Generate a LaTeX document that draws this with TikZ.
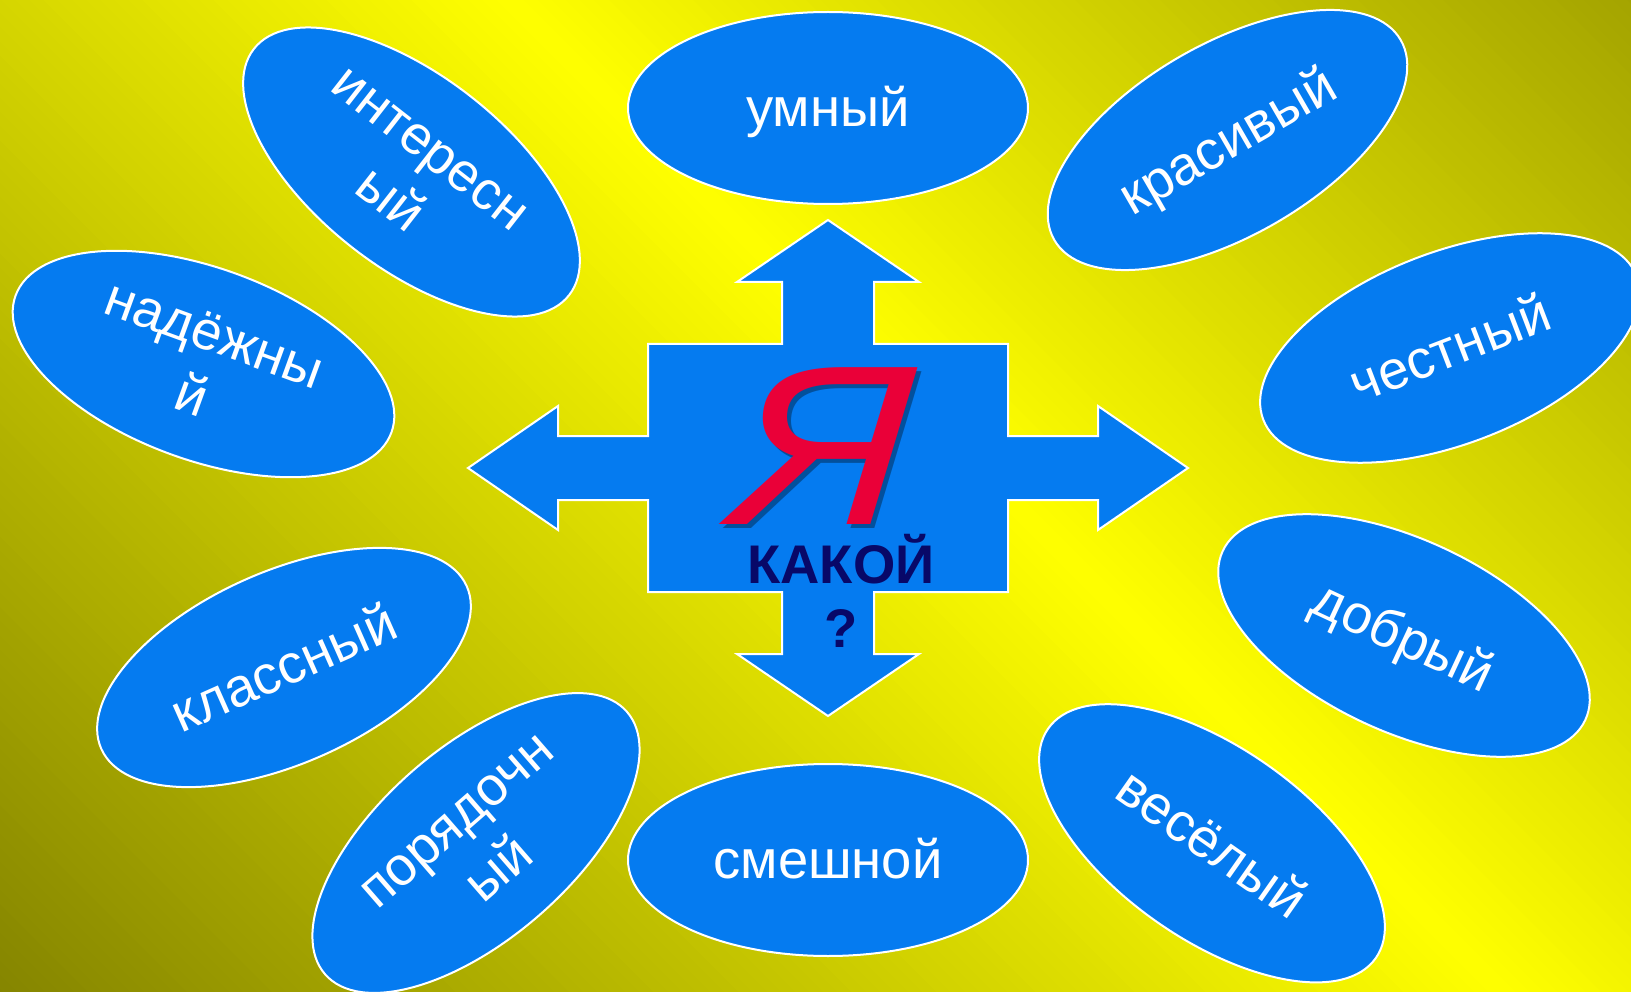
\documentclass[tikz,border=0pt]{standalone}
\usepackage{fontspec}
\setmainfont{Liberation Sans}
\usetikzlibrary{shapes.geometric}
\definecolor{bblue}{RGB}{5,123,240}
\definecolor{yared}{RGB}{234,0,56}
\definecolor{navyk}{RGB}{8,8,104}
\newcommand\myStrut{\rule[-0.212em]{0pt}{1.117em}}
\begin{document}
\begin{tikzpicture}[x=1pt,y=-1pt,
  bubble/.style={ellipse, draw=white, line width=2, fill=bblue,
    minimum width=400, minimum height=192, inner sep=0, text=white,
    align=center, font=\fontsize{54.4}{65.3}\selectfont},
  bigya/.style={font=\fontsize{228}{228}\selectfont\itshape, anchor=base, inner sep=0,
    xscale=1.12, xslant=0.075},
  kak/.style={font=\fontsize{54.4}{63.5}\selectfont\bfseries, text=navyk, anchor=base, inner sep=0}]
\useasboundingbox (0,0) rectangle (1631,992);
% background gradient
\begin{scope}
  \clip (0,0) rectangle (1631,992);
  \begin{scope}[shift={(1010,500)}, rotate=45]
    \foreach \k in {0,...,200} {
      \pgfmathsetmacro\tval{-1100+10*\k}
      \pgfmathsetmacro\bval{max(0,min(1,(255-0.115*abs(\tval+5))/255))}
      \definecolor{stripc}{rgb}{\bval,\bval,0}
      \fill[stripc] (\tval,-1500) rectangle (\tval+11,1500);
    }
  \end{scope}
\end{scope}
% central cross of arrows
\draw[white, line width=2, fill=bblue, line join=miter]
  (828,220) -- (919,282) -- (874,282) -- (874,344) -- (1008,344) -- (1008,436)
  -- (1098,436) -- (1098,406) -- (1188,468) -- (1098,530) -- (1098,500)
  -- (1008,500) -- (1008,592) -- (874,592) -- (874,654) -- (919,654)
  -- (828,716) -- (737,654) -- (782,654) -- (782,592) -- (648,592)
  -- (648,500) -- (558,500) -- (558,530) -- (468,468) -- (558,406)
  -- (558,436) -- (648,436) -- (648,344) -- (782,344) -- (782,282)
  -- (737,282) -- cycle;
% big letter with shadow
\node[bigya, text=black, text opacity=0.35] (yashadow) at (822,528) {Я};
\node[bigya, text=yared] (ya) at (818,524) {Я};
\node[kak] (kakoy) at (841,583.3) {КАКОЙ};
\node[kak] (qmark) at (841.6,647) {?};
% ellipses
\node[bubble] (umny) at (828,108) {\myStrut умный};
\node[bubble] (smeshnoy) at (828,860) {\myStrut смешной};
\node[bubble, rotate=-38] (interes) at (411.5,172) {\myStrut интересн\\\myStrut ый};
\node[bubble, rotate=30] (krasiv) at (1227.5,140) {\myStrut красивый};
\node[bubble, rotate=-20] (nadezh) at (203.5,364) {\myStrut надёжны\\\myStrut й};
\node[bubble, rotate=21] (chestn) at (1450,348) {\myStrut честный};
\node[bubble, rotate=24] (klass) at (284,667.5) {\myStrut классный};
\node[bubble, rotate=-25] (dobr) at (1404,635.5) {\myStrut добрый};
\node[bubble, rotate=41] (poryad) at (476,843) {\myStrut порядочн\\\myStrut ый};
\node[bubble, rotate=-35] (vesel) at (1212,843.3) {\myStrut весёлый};
\end{tikzpicture}
\end{document}
